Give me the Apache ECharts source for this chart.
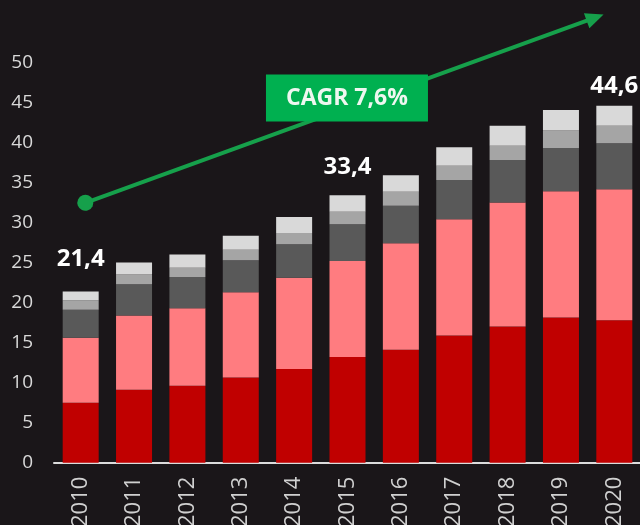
<!DOCTYPE html>
<html>
<head>
<meta charset="utf-8">
<title>CAGR chart</title>
<style>
html, body { margin: 0; padding: 0; background: #1a1619; }
#chart_main { width: 640px; height: 525px; }
</style>
</head>
<body>
<div id="chart_main"></div>
<script src="https://cdn.jsdelivr.net/npm/echarts@6/dist/echarts.min.js"></script>
<script>
// categories
const years = ['2010', '2011', '2012', '2013', '2014', '2015', '2016', '2017', '2018', '2019', '2020'];
// stacked segments, bottom to top
const segRed = [7.5, 9.1, 9.6, 10.65, 11.7, 13.2, 14.1, 15.9, 17.0, 18.15, 17.8];
const segPink = [8.1, 9.3, 9.7, 10.65, 11.4, 12.0, 13.3, 14.5, 15.5, 15.75, 16.35];
const segDark = [3.5, 3.9, 3.9, 4.0, 4.2, 4.6, 4.7, 4.9, 5.3, 5.4, 5.75];
const segMid = [1.2, 1.2, 1.15, 1.3, 1.4, 1.55, 1.75, 1.8, 1.8, 2.2, 2.2];
const segLight = [1.1, 1.5, 1.65, 1.75, 2.0, 2.05, 2.05, 2.3, 2.5, 2.55, 2.5];
// years whose total is written above the bar
const labelYears = ['2010', '2015', '2020'];
// trend arrow (x in category index units, y in axis units)
const trendStart = [0.087, 32.47];
const trendEnd = [9.64, 55.6];
const cagrPos = [4.99, 45.56];
const cagrText = 'CAGR 7,6%';

let myChart = echarts.init(document.getElementById('chart_main'));
let colors = ['#c00000', '#ff7c80', '#595959', '#a5a5a5', '#d9d9d9'];
let segs = [segRed, segPink, segDark, segMid, segLight];
let labelDist = { '2010': 20, '2015': 16, '2020': 8 };

function total(i) {
    let s = 0;
    segs.forEach(a => { s += a[i]; });
    return s.toFixed(1).replace('.', ',');
}

let option = {
    backgroundColor: '#1a1619',
    animation: false,
    grid: { left: 54, right: -1, top: 0, bottom: 62.3, outerBoundsMode: 'none' },
    xAxis: [{
        type: 'category',
        data: years,
        axisLine: { lineStyle: { color: '#dcdcdc', width: 2 } },
        axisTick: { show: false },
        axisLabel: {
            rotate: 90,
            color: '#d0d0d0',
            fontSize: 22,
            fontFamily: 'Open Sans',
            margin: 14,
            interval: 0
        }
    }, {
        type: 'value',
        min: -0.5,
        max: 10.5,
        show: false
    }],
    yAxis: {
        type: 'value',
        min: 0,
        max: 57.8,
        interval: 5,
        axisLine: { show: false },
        axisTick: { show: false },
        splitLine: { show: false },
        axisLabel: {
            color: '#d9d9d9',
            fontSize: 19,
            fontFamily: 'Open Sans',
            margin: 21,
            formatter: v => (v <= 50 ? v : '')
        }
    },
    series: []
};

for (let k = 0; k < segs.length; k++) {
    let top = k === segs.length - 1;
    option.series.push({
        type: 'bar',
        stack: 'total',
        barWidth: 36,
        itemStyle: { color: colors[k] },
        data: segs[k].map((v, i) => {
            if (top && labelYears.indexOf(years[i]) >= 0) {
                return {
                    value: v,
                    label: {
                        show: true,
                        position: 'top',
                        distance: labelDist[years[i]],
                        formatter: () => total(i),
                        color: '#ffffff',
                        fontSize: 24,
                        fontWeight: 'bold',
                        fontFamily: 'Open Sans'
                    }
                };
            }
            return v;
        })
    });
}

// trend arrow
option.series.push({
    type: 'line',
    xAxisIndex: 1,
    data: [trendStart, trendEnd],
    symbol: 'none',
    lineStyle: { opacity: 0 },
    markLine: {
        silent: true,
        symbol: ['circle', 'triangle'],
        symbolSize: [16, 18],
        label: { show: false },
        lineStyle: { color: '#16a04b', width: 4, type: 'solid' },
        itemStyle: { color: '#16a04b' },
        data: [[{ coord: trendStart }, { coord: trendEnd }]]
    }
});

// CAGR box
option.series.push({
    type: 'line',
    xAxisIndex: 1,
    z: 10,
    data: [cagrPos],
    symbol: 'none',
    lineStyle: { opacity: 0 },
    markPoint: {
        silent: true,
        symbol: 'rect',
        symbolSize: [162, 47],
        itemStyle: { color: '#00b050' },
        label: {
            show: true,
            position: 'inside',
            formatter: cagrText,
            color: '#eef7f0',
            fontSize: 23,
            fontWeight: 'bold',
            fontFamily: 'Open Sans'
        },
        data: [{ coord: cagrPos }]
    }
});

myChart.setOption(option, true);
</script>
</body>
</html>
